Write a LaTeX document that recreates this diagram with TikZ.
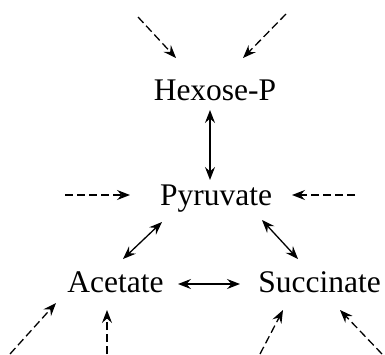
\documentclass[tikz,border=0pt]{standalone}
\usepackage{fontspec}
\setmainfont{Liberation Serif}
\usetikzlibrary{arrows.meta}
\begin{document}
\begin{tikzpicture}[x=1pt,y=-1pt,
  lbl/.style={font=\fontsize{31.5}{36}\selectfont, inner sep=0pt, anchor=base},
  dbl/.style={{Stealth[length=13pt,width=10pt,inset=4.5pt]}-{Stealth[length=13pt,width=10pt,inset=4.5pt]}, line width=1.3pt},
  flux/.style={-{Stealth[length=13pt,width=10pt,inset=4.5pt]}, line width=1.3pt, dash pattern=on 8pt off 4pt}]
\useasboundingbox (0,0) rectangle (385,354);
\node[lbl] (hex) at (215,100) {Hexose-P};
\node[lbl] (pyr) at (216,205) {Pyruvate};
\node[lbl] (ace) at (115.5,292) {Acetate};
\node[lbl] (suc) at (319.5,292) {Succinate};
% free ends of the flux arrows
\coordinate (f1) at (138,17);
\coordinate (f2) at (286,14);
\coordinate (f3) at (65,195);
\coordinate (f4) at (355,195);
\coordinate (f5) at (10,354);
\coordinate (f6) at (107,354);
\coordinate (f7) at (260,354);
\coordinate (f8) at (382,354);
% reversible conversions
\draw[dbl] ([shift={(-5,10)}]hex.base) -- ([shift={(-6,-25)}]pyr.base);
\draw[dbl] ([shift={(-54,17)}]pyr.base) -- ([shift={(7.5,-33)}]ace.base);
\draw[dbl] ([shift={(46,15)}]pyr.base) -- ([shift={(-21.5,-33)}]suc.base);
\draw[dbl] ([shift={(62.5,-8)}]ace.base) -- ([shift={(-79.5,-8)}]suc.base);
% fluxes
\draw[flux] (f1) -- ([shift={(-39,-42)}]hex.base);
\draw[flux] (f2) -- ([shift={(28,-42)}]hex.base);
\draw[flux] (f3) -- ([shift={(-86,-10)}]pyr.base);
\draw[flux] (f4) -- ([shift={(76,-10)}]pyr.base);
\draw[flux] (f5) -- ([shift={(-59.5,11)}]ace.base);
\draw[flux] (f6) -- ([shift={(-8.5,18)}]ace.base);
\draw[flux] (f7) -- ([shift={(-36.5,18)}]suc.base);
\draw[flux] (f8) -- ([shift={(20.5,18)}]suc.base);
\end{tikzpicture}
\end{document}
